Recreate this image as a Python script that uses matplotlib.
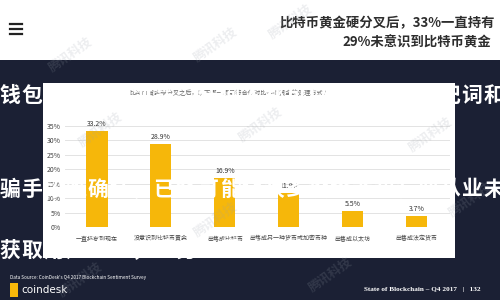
import matplotlib
matplotlib.use("Agg")
import matplotlib.pyplot as plt
from matplotlib.patches import Rectangle
from matplotlib.lines import Line2D

plt.rcParams['font.family'] = ['Noto Sans CJK SC', 'DejaVu Sans']

categories = ["一直持有到现在", "没意识到比特币黄金", "出售成比特币",
              "出售成另一种货币或加密币种", "出售成以太坊", "出售成法定货币"]
values = [33.2, 28.9, 16.9, 11.9, 5.5, 3.7]
value_labels = ["33.2%", "28.9%", "16.9%", "11.9%", "5.5%", "3.7%"]
yticks = [0, 5, 10, 15, 20, 25, 30, 35]
ytick_labels = ["0%", "5%", "10%", "15%", "20%", "25%", "30%", "35%"]

title1 = "比特币黄金硬分叉后，33%一直持有"
title2 = "29%未意识到比特币黄金"
subtitle = "比特币黄金硬分叉之后，以下哪一项最符合你对比特币黄金的处理方式？"
source = "Data Source: CoinDesk's Q4 2017 Blockchain Sentiment Survey"
footer = "State of Blockchain – Q4 2017   |   132"
overlay_rows = ["钱包私钥一旦泄露，任何人都可以直接使用助记词和",
                "骗手段难确认，已经可能让很多投资者和行业从业未",
                "获取用户资产，请务必妥善保管"]
watermark = "腾讯科技"

W, H = 500, 300
NAVY = "#1b2034"
GOLD = "#f6b70a"

fig = plt.figure(figsize=(5, 3), dpi=100)
fig.patch.set_facecolor("white")


def fx(x):
    return x / W


def fy(y):
    return 1 - y / H


# navy band
fig.add_artist(Rectangle((0, 0), 1, fy(60), transform=fig.transFigure,
                         facecolor=NAVY, edgecolor="none", zorder=0))
# white panel
fig.add_artist(Rectangle((fx(43), fy(258)), fx(455) - fx(43), fy(83) - fy(258),
                         transform=fig.transFigure, facecolor="white",
                         edgecolor="none", zorder=1))

# hamburger icon
for yy in (24, 29, 34):
    fig.add_artist(Line2D([fx(10), fx(22)], [fy(yy), fy(yy)], transform=fig.transFigure,
                          color="#222222", lw=1.6, zorder=2))

# titles
fig.text(fx(495), fy(23), title1, ha="right", va="center", fontsize=9.6,
         fontweight="bold", color="#2e2e2e", zorder=3)
fig.text(fx(491), fy(42), title2, ha="right", va="center", fontsize=9.6,
         fontweight="bold", color="#2e2e2e", zorder=3)

# bar chart axes
ax = fig.add_axes([fx(65), fy(227), fx(450) - fx(65), fy(126) - fy(227)])
ax.set_zorder(2)
ax.patch.set_alpha(0)
x = list(range(len(values)))
ax.bar(x, values, width=0.33, color=GOLD, zorder=2)
ax.set_xlim(-0.5, 5.52)
ax.set_ylim(0, 35)
ax.set_yticks(yticks)
ax.set_yticklabels(ytick_labels, fontsize=5, color="#444444")
ax.set_xticks(x)
ax.set_xticklabels(categories, fontsize=4.3, color="#444444")
ax.tick_params(length=0, pad=6)
ax.tick_params(axis="y", pad=3)
ax.grid(axis="y", color="#e3e3e3", lw=0.7, zorder=0)
for s in ax.spines.values():
    s.set_visible(False)
for xi, v, lab in zip(x, values, value_labels):
    ax.text(xi, v + 1.0, lab, ha="center", va="bottom", fontsize=5,
            color="#333333", clip_on=False)

# subtitle inside panel
fig.text(fx(130), fy(93), subtitle, ha="left", va="center", fontsize=4.5,
         color="#666666", zorder=3)

# watermarks
for (wx, wy) in [(70, 55), (215, 45), (100, 130), (260, 125), (430, 135),
                 (215, 220), (330, 275), (80, 280), (470, 200), (290, 22)]:
    fig.text(fx(wx), fy(wy), watermark, ha="center", va="center", fontsize=9,
             fontweight="bold", color="#9aa0aa", alpha=0.18, rotation=35, zorder=4)

# overlay subtitle rows (white calligraphy-like text)
row_y = [95, 189, 250]
pitch = 22
for row, yy in zip(overlay_rows, row_y):
    for i, ch in enumerate(row):
        fig.text(fx(10 + pitch * i), fy(yy), ch, ha="center", va="center",
                 fontsize=15, fontweight="heavy", color="white", zorder=5)

# footer
fig.text(fx(10), fy(278), source, ha="left", va="center", fontsize=3.4,
         color="white", zorder=3)
fig.add_artist(Rectangle((fx(10), fy(297)), fx(8), fy(283) - fy(297),
                         transform=fig.transFigure, facecolor=GOLD,
                         edgecolor="none", zorder=3))
fig.text(fx(21), fy(290), "coindesk", ha="left", va="center", fontsize=7.5,
         color="white", family=["DejaVu Sans"], zorder=3)
fig.text(fx(481), fy(290), footer, ha="right", va="center", fontsize=5.2,
         color="white", family=["Liberation Serif"], fontweight="bold", zorder=3)

fig.savefig("out.png", dpi=100, facecolor=fig.get_facecolor())
